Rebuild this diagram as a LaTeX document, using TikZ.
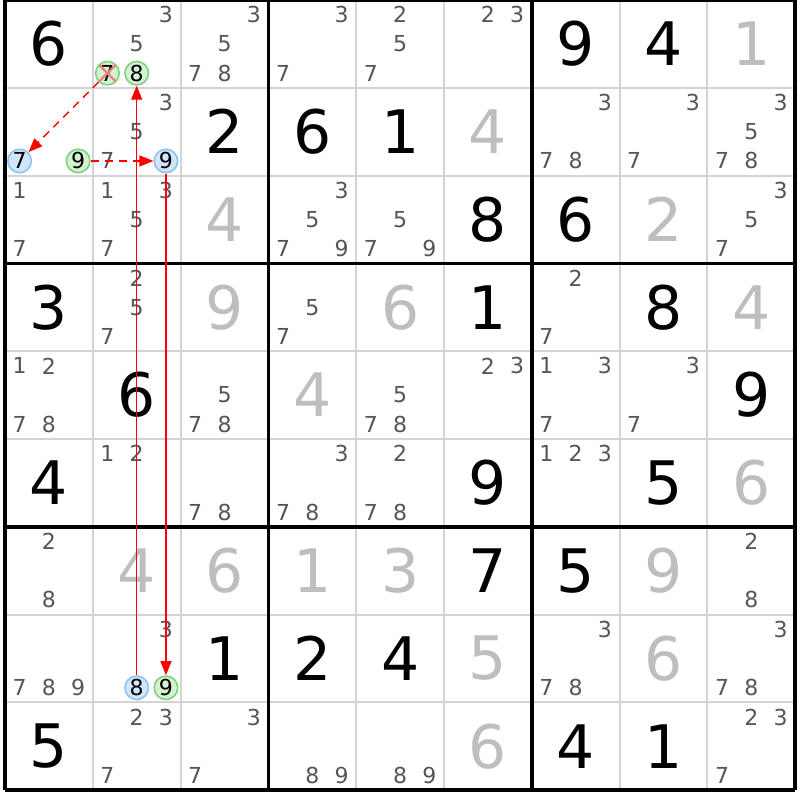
\documentclass[tikz,border=0pt]{standalone}
\usepackage{fontspec}
\setmainfont{DejaVu Sans}
\usetikzlibrary{arrows.meta}
\definecolor{candgray}{HTML}{555555}
\definecolor{solvedgray}{HTML}{BEBEBE}
\definecolor{thingrid}{HTML}{D4D4D4}
\definecolor{hlgreen}{HTML}{D2F2D2}
\definecolor{hlgreenline}{HTML}{7ED47E}
\definecolor{hlblue}{HTML}{D0E6FB}
\definecolor{hlblueline}{HTML}{8EC2F0}
\definecolor{xred}{HTML}{F07E7E}
\newcommand\gridx{5}
\newcommand\gridy{0}
\newcommand\cellsz{87.8}
\newcommand\hlcand[4]{%
  \pgfmathsetmacro\hlx{\gridx+(#3-1)*\cellsz+(mod(#4-1,3)+0.5)*\cellsz/3}%
  \pgfmathsetmacro\hly{\gridy+(#2-1)*\cellsz+(floor((#4-1)/3)+0.5)*\cellsz/3}%
  \node[#1] (h-#2-#3-#4) at (\hlx,\hly) {#4};}
\begin{document}
\begin{tikzpicture}[x=1pt,y=-1pt,
  given/.style={font=\fontsize{60}{60}\selectfont, text=black, inner sep=0pt},
  solved/.style={given, text=solvedgray},
  cand/.style={font=\fontsize{22}{22}\selectfont, text=candgray, inner sep=0pt},
  hlg/.style={circle, draw=hlgreenline, fill=hlgreen, line width=1.6pt, minimum size=23.5pt, inner sep=0pt, font=\fontsize{22}{22}\selectfont, text=black},
  hlb/.style={hlg, draw=hlblueline, fill=hlblue},
  thingridline/.style={draw=thingrid, line width=2pt},
  thickgridline/.style={draw=black, line width=3.5pt},
  linkarrow/.style={draw=red, line width=1.3pt, -{Triangle[length=14pt,width=11pt]}},
  weakarrow/.style={linkarrow, dash pattern=on 8pt off 6pt},
  xmark/.style={draw=xred, line width=2.2pt}]
\useasboundingbox (0,0) rectangle (800,800);
\fill[white] (0,0) rectangle (800,800);
% thin grid
\foreach \i in {1,2,4,5,7,8}{
  \draw[thingridline] ({\gridx+\i*\cellsz},{\gridy}) -- ({\gridx+\i*\cellsz},{\gridy+9*\cellsz});
  \draw[thingridline] ({\gridx},{\gridy+\i*\cellsz}) -- ({\gridx+9*\cellsz},{\gridy+\i*\cellsz});
}
% givens
\foreach \r/\c/\d in {1/1/6,1/7/9,1/8/4,2/3/2,2/4/6,2/5/1,3/6/8,3/7/6,4/1/3,4/6/1,4/8/8,5/2/6,5/9/9,6/1/4,6/6/9,6/8/5,7/6/7,7/7/5,8/3/1,8/4/2,8/5/4,9/1/5,9/7/4,9/8/1}{
  \node[given] (g-\r-\c) at ({\gridx+(\c-0.5)*\cellsz},{\gridy+(\r-0.5)*\cellsz}) {\d};
}
% solved
\foreach \r/\c/\d in {1/9/1,2/6/4,3/3/4,3/8/2,4/3/9,4/5/6,4/9/4,5/4/4,6/9/6,7/2/4,7/3/6,7/4/1,7/5/3,7/8/9,8/6/5,8/8/6,9/6/6}{
  \node[solved] (g-\r-\c) at ({\gridx+(\c-0.5)*\cellsz},{\gridy+(\r-0.5)*\cellsz}) {\d};
}
% candidates
\foreach \r/\c/\ds in {1/2/{3,5},1/3/{3,5,7,8},1/4/{3,7},1/5/{2,5,7},1/6/{2,3},
  2/2/{3,5,7},2/7/{3,7,8},2/8/{3,7},2/9/{3,5,7,8},
  3/1/{1,7},3/2/{1,3,5,7},3/4/{3,5,7,9},3/5/{5,7,9},3/9/{3,5,7},
  4/2/{2,5,7},4/4/{5,7},4/7/{2,7},
  5/1/{1,2,7,8},5/3/{5,7,8},5/5/{5,7,8},5/6/{2,3},5/7/{1,3,7},5/8/{3,7},
  6/2/{1,2},6/3/{7,8},6/4/{3,7,8},6/5/{2,7,8},6/7/{1,2,3},
  7/1/{2,8},7/9/{2,8},
  8/1/{7,8,9},8/2/{3},8/7/{3,7,8},8/9/{3,7,8},
  9/2/{2,3,7},9/3/{3,7},9/4/{8,9},9/5/{8,9},9/9/{2,3,7}}{
  \foreach \d in \ds {
    \pgfmathsetmacro\cx{\gridx+(\c-1)*\cellsz+(mod(\d-1,3)+0.5)*\cellsz/3}
    \pgfmathsetmacro\cy{\gridy+(\r-1)*\cellsz+(floor((\d-1)/3)+0.5)*\cellsz/3}
    \node[cand] (k-\r-\c-\d) at (\cx,\cy) {\d};
  }
}
% highlighted candidates
\hlcand{hlg}{1}{2}{7}
\hlcand{hlg}{1}{2}{8}
\hlcand{hlb}{2}{1}{7}
\hlcand{hlg}{2}{1}{9}
\hlcand{hlb}{2}{2}{9}
\hlcand{hlb}{8}{2}{8}
\hlcand{hlg}{8}{2}{9}
% elimination cross
\draw[xmark] ([shift={(-8,-8)}]h-1-2-7.center) -- ([shift={(8,8)}]h-1-2-7.center);
\draw[xmark] ([shift={(-8,8)}]h-1-2-7.center) -- ([shift={(8,-8)}]h-1-2-7.center);
% thick grid
\foreach \i in {0,3,6,9}{
  \draw[thickgridline] ({\gridx+\i*\cellsz},{\gridy}) -- ({\gridx+\i*\cellsz},{\gridy+9*\cellsz});
  \draw[thickgridline] ({\gridx},{\gridy+\i*\cellsz}) -- ({\gridx+9*\cellsz},{\gridy+\i*\cellsz});
}
% links
\draw[weakarrow] (h-1-2-7) -- (h-2-1-7);
\draw[weakarrow] (h-2-1-9) -- (h-2-2-9);
\draw[linkarrow] (h-8-2-8) -- (h-1-2-8);
\draw[linkarrow] (h-2-2-9) -- (h-8-2-9);
\end{tikzpicture}
\end{document}
